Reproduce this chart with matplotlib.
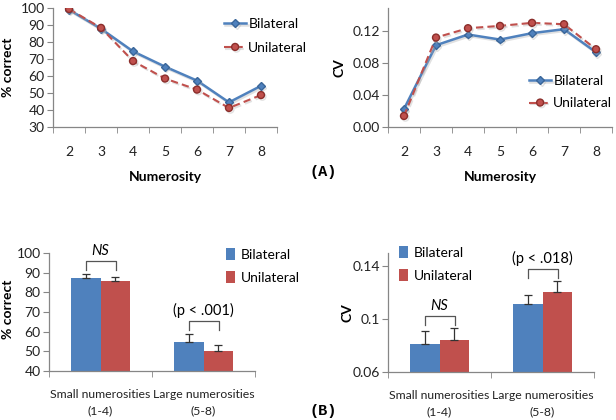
import numpy as np
import matplotlib
matplotlib.use("Agg")
import matplotlib.pyplot as plt
import matplotlib.patheffects as pe

plt.rcParams["font.family"] = ["Lato", "DejaVu Sans"]

# data to plot
numerosity = [2, 3, 4, 5, 6, 7, 8]
acc_bilateral = [99.0, 87.8, 74.5, 65.5, 57.3, 44.5, 54.2]
acc_unilateral = [99.4, 88.3, 68.8, 58.5, 52.0, 41.2, 48.8]
cv_bilateral = [0.0226, 0.1024, 0.1158, 0.1095, 0.1175, 0.1225, 0.0936]
cv_unilateral = [0.0138, 0.1120, 0.1237, 0.1266, 0.1304, 0.1287, 0.0974]

groups = ["Small numerosities\n(1-4)", "Large numerosities\n(5-8)"]
bar_acc_bilateral = [87.3, 54.9]
bar_acc_unilateral = [85.6, 50.0]
err_acc_bilateral = [2.0, 4.1]
err_acc_unilateral = [2.2, 3.4]
bar_cv_bilateral = [0.0814, 0.1111]
bar_cv_unilateral = [0.0841, 0.1206]
err_cv_bilateral = [0.0096, 0.0068]
err_cv_unilateral = [0.0094, 0.0081]

blue = '#4F81BD'
red = '#C0504D'
axis_gray = '#868686'
W, H = 616, 420

fig = plt.figure(figsize=(W / 100, H / 100), dpi=100)


def box(l, t, r, b):
    return [l / W, 1 - b / H, (r - l) / W, (b - t) / H]


def style(ax):
    for s in ['top', 'right']:
        ax.spines[s].set_visible(False)
    for s in ['left', 'bottom']:
        ax.spines[s].set_color(axis_gray)
        ax.spines[s].set_linewidth(0.9)
    ax.tick_params(axis='y', direction='out', length=4, color=axis_gray,
                   labelsize=10, pad=2, labelcolor='#222222')
    ax.tick_params(axis='x', which='major', length=0, labelsize=10,
                   pad=14, labelcolor='#222222')
    ax.tick_params(axis='x', which='minor', direction='out', length=4,
                   color=axis_gray)


shadow = [pe.SimpleLineShadow(offset=(1, -1.2), shadow_color='#aaaaaa', alpha=0.35),
          pe.Normal()]


def line_panel(ax, yb, yu):
    x = np.arange(len(numerosity))
    ax.plot(x, yb, color=blue, lw=1.8, marker='D', ms=4, mfc=blue,
            mec='#3A6699', label='Bilateral', path_effects=shadow)
    ax.plot(x, yu, color=red, lw=1.5, ls=(0, (3.5, 2)), marker='o', ms=5,
            mfc=red, mec='#8B2E2B', label='Unilateral', path_effects=shadow)
    ax.set_xlim(-0.5, len(numerosity) - 0.5)
    ax.set_xticks(x)
    ax.set_xticklabels([str(n) for n in numerosity])
    ax.set_xticks(np.arange(len(numerosity) + 1) - 0.5, minor=True)
    ax.set_xlabel('Numerosity', fontsize=10, fontweight='bold', labelpad=9)
    style(ax)


ax1 = fig.add_axes(box(53, 8, 277, 127))
line_panel(ax1, acc_bilateral, acc_unilateral)
ax1.set_ylim(30, 100)
ax1.set_yticks(np.arange(30, 101, 10))
ax1.set_ylabel('% correct', fontsize=10, fontweight='bold')
ax1.yaxis.set_label_coords(-0.172, 0.5)
ax1.legend(loc='upper left', bbox_to_anchor=(224 / W, 1 - 18 / H),
           bbox_transform=fig.transFigure, frameon=False, fontsize=10,
           handlelength=1.6, handletextpad=0.15, labelspacing=0.85,
           borderaxespad=0, borderpad=0)

ax2 = fig.add_axes(box(388, 8, 612, 127))
line_panel(ax2, cv_bilateral, cv_unilateral)
ax2.set_ylim(0, 0.149)
ax2.set_yticks([0, 0.04, 0.08, 0.12])
ax2.set_yticklabels(['0.00', '0.04', '0.08', '0.12'])
ax2.set_ylabel('CV', fontsize=10, fontweight='bold')
ax2.yaxis.set_label_coords(-0.19, 0.5)
ax2.legend(loc='upper left', bbox_to_anchor=(529 / W, 1 - 75 / H),
           bbox_transform=fig.transFigure, frameon=False, fontsize=10,
           handlelength=1.6, handletextpad=0.15, labelspacing=0.75,
           borderaxespad=0, borderpad=0)


def bar_panel(ax, vb, vu, eb, eu, notes):
    x = np.arange(len(groups))
    bw = 0.29
    ax.bar(x - bw / 2, vb, bw, color=blue, label='Bilateral')
    ax.bar(x + bw / 2, vu, bw, color=red, label='Unilateral')
    for xs, v, e in [(x - bw / 2, vb, eb), (x + bw / 2, vu, eu)]:
        ax.errorbar(xs, v, yerr=[np.zeros(len(v)), e], fmt='none',
                    ecolor='#333333', elinewidth=0.9, capsize=3, capthick=0.9)
    ax.set_xlim(-0.5, len(groups) - 0.5)
    ax.set_xticks(x)
    ax.set_xticklabels(groups, fontsize=8.8, linespacing=1.6)
    ax.set_xticks(np.arange(len(groups) + 1) - 0.5, minor=True)
    style(ax)
    ax.tick_params(axis='x', which='major', pad=13, labelsize=8.8)
    for i, (txt, top, drop, italic) in enumerate(notes):
        x0, x1 = i - bw / 2 + 0.005, i + bw / 2 + 0.005
        ax.plot([x0, x0, x1, x1], [top - drop, top, top, top - drop],
                color='#555555', lw=0.9, clip_on=False)
        ax.annotate(txt, (i, top), xytext=(0, 2), textcoords='offset points',
                    ha='center', va='bottom', fontsize=10.5,
                    style='italic' if italic else 'normal')


ax3 = fig.add_axes(box(49, 253, 255, 371))
bar_panel(ax3, bar_acc_bilateral, bar_acc_unilateral,
          err_acc_bilateral, err_acc_unilateral,
          [('NS', 95.9, 4.5, True), ('(p < .001)', 65.4, 4.5, False)])
ax3.set_ylim(40, 100)
ax3.set_yticks(np.arange(40, 101, 10))
ax3.set_ylabel('% correct', fontsize=10, fontweight='bold')
ax3.yaxis.set_label_coords(-0.168, 0.52)
ax3.legend(loc='upper left', bbox_to_anchor=(226 / W, 1 - 248 / H),
           bbox_transform=fig.transFigure, frameon=False, fontsize=10,
           handlelength=0.65, handleheight=0.9, handletextpad=0.4,
           labelspacing=0.75, borderaxespad=0, borderpad=0)

ax4 = fig.add_axes(box(388, 253, 594, 372))
bar_panel(ax4, bar_cv_bilateral, bar_cv_unilateral,
          err_cv_bilateral, err_cv_unilateral,
          [('NS', 0.1024, 0.0068, True), ('(p < .018)', 0.1379, 0.0068, False)])
ax4.set_ylim(0.06, 0.15)
ax4.set_yticks([0.06, 0.1, 0.14])
ax4.set_yticklabels(['0.06', '0.1', '0.14'])
ax4.set_ylabel('CV', fontsize=10, fontweight='bold')
ax4.yaxis.set_label_coords(-0.168, 0.5)
ax4.legend(loc='upper left', bbox_to_anchor=(399 / W, 1 - 246 / H),
           bbox_transform=fig.transFigure, frameon=False, fontsize=10,
           handlelength=0.65, handleheight=0.9, handletextpad=0.4,
           labelspacing=0.75, borderaxespad=0, borderpad=0)

fig.text(323 / W, 1 - 172 / H, '(A)', family=['Liberation Mono', 'DejaVu Sans Mono'],
         fontweight='bold', fontsize=11, ha='center', va='center')
fig.text(323 / W, 1 - 411 / H, '(B)', family=['Liberation Mono', 'DejaVu Sans Mono'],
         fontweight='bold', fontsize=11, ha='center', va='center')

fig.savefig('out.png', dpi=100)
